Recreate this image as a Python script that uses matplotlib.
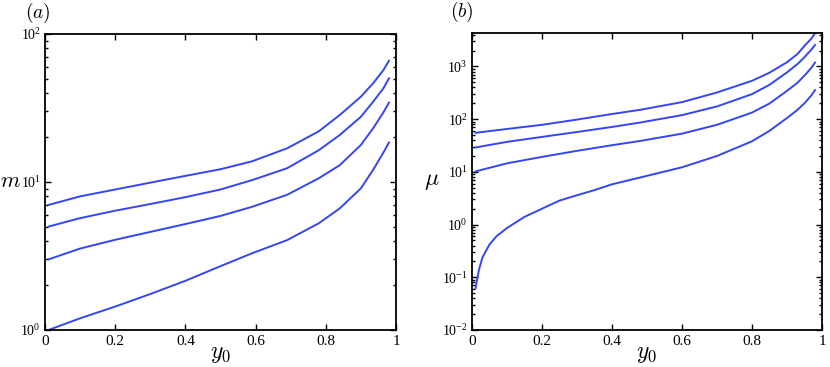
import numpy as np
import matplotlib
matplotlib.use('Agg')
import matplotlib.pyplot as plt
from matplotlib.ticker import FixedLocator, LogLocator, NullFormatter, FuncFormatter

plt.rcParams['font.family'] = ['Liberation Serif', 'DejaVu Serif']
plt.rcParams['mathtext.fontset'] = 'cm'

# values
# (a): m against y0
y0_a = [0.01, 0.1, 0.2, 0.3, 0.4, 0.5, 0.59, 0.69, 0.78, 0.84, 0.9, 0.935, 0.964, 0.98]
m_1 = [7.0, 8.0, 8.9, 9.9, 11.0, 12.2, 13.8, 16.9, 22.0, 28.4, 37.7, 46.5, 57, 66]
m_2 = [5.0, 5.7, 6.4, 7.1, 7.9, 8.9, 10.3, 12.4, 16.4, 20.8, 27.6, 34.9, 42.9, 50.2]
m_3 = [3.0, 3.55, 4.07, 4.6, 5.2, 5.9, 6.8, 8.2, 10.6, 13.0, 17.8, 23.1, 29.5, 34.4]
m_4 = [1.0, 1.2, 1.44, 1.75, 2.15, 2.7, 3.3, 4.05, 5.26, 6.64, 9.06, 12.1, 15.8, 18.5]

# (b): mu against y0
y0_b = [0.01, 0.1, 0.2, 0.3, 0.4, 0.48, 0.6, 0.7, 0.8, 0.85, 0.9, 0.93, 0.95, 0.97, 0.98]
mu_1 = [55, 65, 78, 98, 125, 150, 210, 320, 533, 760, 1200, 1720, 2450, 3390, 4270]
mu_2 = [29, 37, 46, 57, 71, 86, 119, 174, 298, 448, 770, 1110, 1500, 2100, 2550]
mu_3 = [10.2, 14.5, 19.2, 25, 32, 38.5, 53, 78, 133, 198, 344, 490, 670, 950, 1180]
y0_b4 = [0.01, 0.02, 0.03, 0.05, 0.07, 0.1, 0.15, 0.2, 0.25, 0.3, 0.35, 0.4, 0.48,
         0.6, 0.7, 0.8, 0.85, 0.9, 0.93, 0.95, 0.97, 0.98]
mu_4 = [0.062, 0.14, 0.24, 0.42, 0.6, 0.86, 1.4, 2.0, 2.85, 3.6, 4.5, 5.8, 7.8,
        12.2, 20, 38, 60, 105, 150, 200, 285, 355]

x_ticks = [0, 0.2, 0.4, 0.6, 0.8, 1]
x_labels = ['0', '0.2', '0.4', '0.6', '0.8', '1']

blue = '#3346f5'

fig = plt.figure(figsize=(8.3, 3.67), dpi=100)
ax1 = fig.add_axes([0.0542, 0.1008, 0.4229, 0.8065])
ax2 = fig.add_axes([0.5687, 0.1008, 0.4217, 0.8093])


def dec_fmt(v, pos):
    return r'$\mathdefault{10^{%d}}$' % int(round(np.log10(v)))


for ax in (ax1, ax2):
    ax.set_yscale('log')
    ax.set_xlim(0, 1)
    ax.xaxis.set_major_locator(FixedLocator(x_ticks))
    ax.set_xticklabels(x_labels)
    ax.yaxis.set_major_locator(LogLocator(base=10, numticks=20))
    ax.yaxis.set_minor_locator(LogLocator(base=10, subs=np.arange(2, 10), numticks=20))
    ax.yaxis.set_major_formatter(FuncFormatter(dec_fmt))
    ax.yaxis.set_minor_formatter(NullFormatter())
    ax.tick_params(which='both', direction='in', top=True, right=True, width=1)
    ax.tick_params(axis='x', labelsize=11)
    ax.tick_params(axis='y', labelsize=10, pad=3)
    ax.tick_params(which='major', length=4)
    ax.tick_params(which='minor', length=2)
    for s in ax.spines.values():
        s.set_linewidth(1.3)
    ax.set_xlabel(r'$y_0$', fontsize=17, labelpad=-3)

for m in (m_1, m_2, m_3, m_4):
    ax1.plot(y0_a, m, color=blue, lw=1.4)
ax1.set_ylim(1, 100)
ax1.set_ylabel(r'$m$', fontsize=16, rotation=0, va='center', ha='center')
ax1.yaxis.set_label_coords(-0.098, 0.5)
ax1.text(-0.02, 1.07, r'$(a)$', transform=ax1.transAxes, fontsize=14, ha='center', va='center')

for x, mu in ((y0_b, mu_1), (y0_b, mu_2), (y0_b, mu_3), (y0_b4, mu_4)):
    ax2.plot(x, mu, color=blue, lw=1.4)
ax2.set_ylim(0.01, 4300)
ax2.set_ylabel(r'$\mu$', fontsize=17, rotation=0, va='center', ha='center')
ax2.yaxis.set_label_coords(-0.115, 0.5)
ax2.text(-0.03, 1.07, r'$(b)$', transform=ax2.transAxes, fontsize=14, ha='center', va='center')

fig.savefig('out.png', dpi=100)
